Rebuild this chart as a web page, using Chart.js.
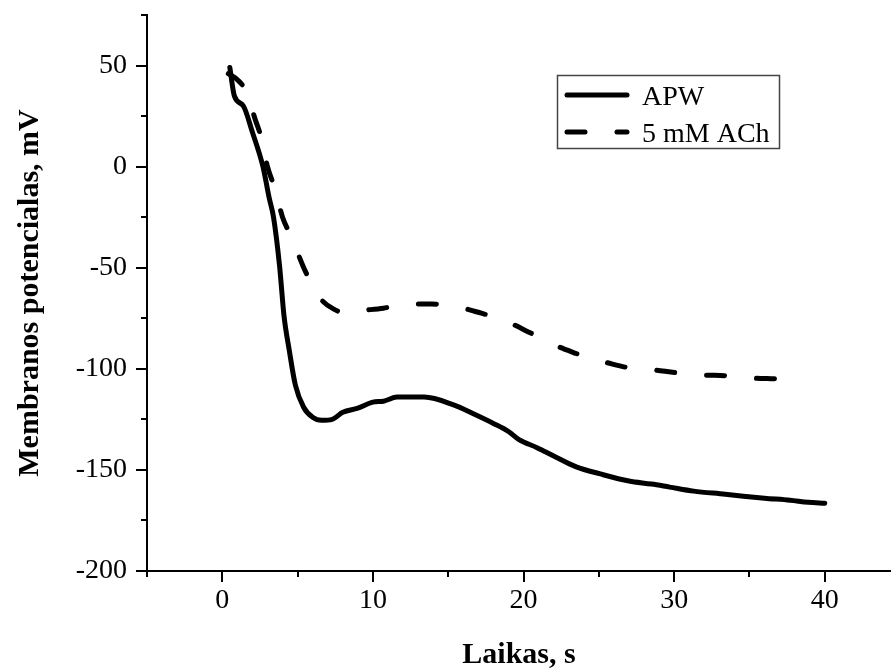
<!DOCTYPE html>
<html>
<head>
<meta charset="utf-8">
<title>Membranos potencialas</title>
<script src="https://cdn.jsdelivr.net/npm/chart.js@4.4.1/dist/chart.umd.min.js"></script>
<style>
    html, body { margin: 0; padding: 0; background: #fff; overflow: hidden; }
    #wrap { width: 891px; height: 670px; }
</style>
</head>
<body>
<div id="wrap"><canvas id="chart" width="891" height="670"></canvas></div>
<script>
// APW curve: time (s) and membrane potential (mV)
const apwTime = [0.5, 0.8, 1.4, 2.0, 2.7, 3.1, 3.4, 3.8, 4.1, 4.45, 4.85, 5.4, 6.0, 6.6, 7.3, 8.0, 9.0, 10.0, 10.7, 11.6, 13.4,
    15.4, 16.6, 18.0, 19.0, 19.7, 20.9, 22.1, 23.5, 25.1, 27.0, 28.5, 29.7, 31.3, 33.4, 34.6, 36.0, 37.7, 38.9, 40.0];
const apwValues = [49, 35, 30, 17, 0, -15, -25, -49, -74, -91, -108, -119, -124, -125.5, -125, -121.5, -119.5, -116.5, -116, -114, -114,
    -118, -122, -127, -131, -135, -139, -143.5, -148.5, -152, -155.5, -157, -158.5, -160.5, -162, -163, -164, -165, -166, -166.5];

// 5 mM ACh curve
const achTime = [0.4, 1.0, 1.6, 2.2, 2.6, 3.0, 3.5, 4.0, 4.6, 5.35, 6.0, 6.6, 7.4, 8.2, 8.9, 10.7, 12.2, 13.9, 15.4, 17.2,
    18.7, 20.4, 22.0, 23.7, 24.4, 25.3, 27.0, 28.6, 30.2, 31.8, 33.6, 35.0, 36.8, 38.4];
const achValues = [46, 43, 37, 23, 14, 0, -11, -25, -35, -49, -59, -66, -70.5, -72.5, -71.5, -70, -68, -68, -69, -72.5,
    -76, -82, -88, -93, -95, -96.5, -99.5, -100.5, -102, -103, -103.5, -104.5, -105, -105.5];

const seriesLabels = ['APW', '5 mM ACh'];
const xTicks = [0, 10, 20, 30, 40];
const yTicks = [-200, -150, -100, -50, 0, 50];

const serif = '"Liberation Serif", "Times New Roman", serif';

function toPoints(xs, ys) {
    return xs.map((x, i) => ({ x: x, y: ys[i] }));
}

// draws major and minor tick marks plus a boxed legend
const axisPlugin = {
    id: 'axisPlugin',
    afterDraw(chart) {
        const ctx = chart.ctx;
        const xs = chart.scales.x;
        const ys = chart.scales.y;
        const area = chart.chartArea;
        ctx.save();
        ctx.strokeStyle = '#000';
        ctx.lineWidth = 2;
        ctx.beginPath();
        // x ticks every 5, major every 10
        for (let v = -5; v <= xs.max; v += 5) {
            const px = Math.round(xs.getPixelForValue(v));
            const len = (v % 10 === 0) ? 11 : 6;
            ctx.moveTo(px, area.bottom);
            ctx.lineTo(px, area.bottom + len);
        }
        // y ticks every 25, major every 50
        for (let v = -200; v <= ys.max; v += 25) {
            const py = Math.round(ys.getPixelForValue(v));
            const len = (v % 50 === 0) ? 11 : 6;
            ctx.moveTo(area.left, py);
            ctx.lineTo(area.left - len, py);
        }
        ctx.stroke();

        // legend
        const box = { x: 557, y: 75, w: 222, h: 73 };
        ctx.lineWidth = 1.5;
        ctx.strokeStyle = '#444';
        ctx.strokeRect(box.x + 0.5, box.y + 0.5, box.w, box.h);
        ctx.font = '28px ' + serif;
        ctx.fillStyle = '#000';
        ctx.textBaseline = 'alphabetic';
        const rows = [95, 132];
        chart.data.datasets.forEach((ds, i) => {
            ctx.beginPath();
            ctx.strokeStyle = ds.borderColor;
            ctx.lineWidth = ds.borderWidth;
            ctx.lineCap = 'round';
            ctx.setLineDash(ds.borderDash || []);
            ctx.moveTo(567, rows[i]);
            ctx.lineTo(627, rows[i]);
            ctx.stroke();
            ctx.setLineDash([]);
            ctx.fillText(ds.label, 642, rows[i] + 10);
        });
        ctx.restore();
    }
};

new Chart(document.getElementById('chart'), {
    type: 'line',
    data: {
        datasets: [
            {
                label: seriesLabels[0],
                data: toPoints(apwTime, apwValues),
                borderColor: '#000',
                borderWidth: 5,
                borderCapStyle: 'round',
                borderJoinStyle: 'round',
                pointRadius: 0,
                cubicInterpolationMode: 'monotone',
                fill: false
            },
            {
                label: seriesLabels[1],
                data: toPoints(achTime, achValues),
                borderColor: '#000',
                borderWidth: 5,
                borderDash: [18, 32],
                borderCapStyle: 'round',
                borderJoinStyle: 'round',
                pointRadius: 0,
                cubicInterpolationMode: 'monotone',
                fill: false
            }
        ]
    },
    options: {
        responsive: false,
        animation: false,
        devicePixelRatio: 1,
        layout: { padding: { top: 15, right: 0, left: 0, bottom: 0 } },
        plugins: {
            legend: { display: false },
            tooltip: { enabled: false }
        },
        scales: {
            x: {
                type: 'linear',
                min: -5,
                max: 44.4,
                afterFit: s => { s.height = 99; },
                afterBuildTicks: s => { s.ticks = xTicks.map(v => ({ value: v })); },
                // tick marks are drawn by the plugin, tickLength only spaces the labels
                grid: { display: false, drawTicks: true, tickLength: 16 },
                border: { display: true, color: '#000', width: 2 },
                ticks: {
                    color: '#000',
                    padding: 0,
                    maxRotation: 0,
                    font: { family: serif, size: 28, lineHeight: 1 }
                },
                title: {
                    display: true,
                    text: 'Laikas, s',
                    color: '#000',
                    padding: { top: 0, bottom: 0 },
                    font: { family: serif, size: 30, weight: 'bold', lineHeight: 1 }
                }
            },
            y: {
                type: 'linear',
                min: -200,
                max: 75,
                afterFit: s => { s.width = 147; },
                afterBuildTicks: s => { s.ticks = yTicks.map(v => ({ value: v })); },
                grid: { display: false, drawTicks: true, tickLength: 20 },
                border: { display: true, color: '#000', width: 2 },
                ticks: {
                    color: '#000',
                    padding: 0,
                    font: { family: serif, size: 28, lineHeight: 1 }
                },
                title: {
                    display: true,
                    text: 'Membranos potencialas, mV',
                    color: '#000',
                    padding: { top: 15, bottom: 0 },
                    font: { family: serif, size: 30, weight: 'bold', lineHeight: 1 }
                }
            }
        }
    },
    plugins: [axisPlugin]
});
</script>
</body>
</html>
